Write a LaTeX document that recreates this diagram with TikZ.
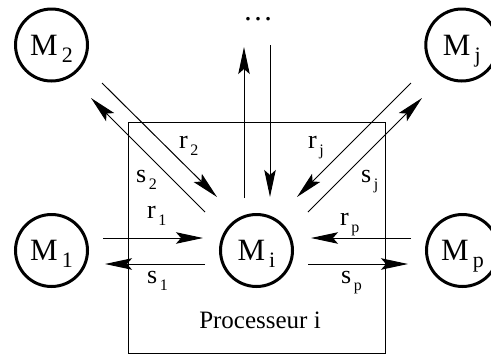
\documentclass[tikz,border=0pt]{standalone}
\usepackage{fontspec}
\setmainfont{Liberation Serif}
\usetikzlibrary{arrows.meta}
\newcommand{\Msub}[2]{#1\hspace{4pt}\raisebox{-7pt}{\fontsize{22}{22}\selectfont #2}}
\newcommand{\Lsub}[2]{#1\hspace{2.5pt}\raisebox{-7pt}{\fontsize{16}{16}\selectfont #2}}
\begin{document}
\begin{tikzpicture}[x=1pt,y=-1pt,
  proc/.style={circle,draw,line width=3pt,minimum size=72pt,inner sep=0pt,text depth=0pt,font=\fontsize{31}{31}\selectfont},
  msg/.style={line width=1pt,-{Stealth[length=27pt,width=11.5pt,inset=5pt]}},
  lab/.style={anchor=base west,inner sep=0pt,font=\fontsize{26}{26}\selectfont}]
\useasboundingbox (0,0) rectangle (491,354);
% processor box
\node (box) [draw,line width=1.2pt,minimum width=257pt,minimum height=231pt,inner sep=0pt,anchor=north west] at (128,122) {};
\node (title) [anchor=base,inner sep=0pt,font=\fontsize{25}{25}\selectfont] at (260,328) {Processeur i};
% processes
\node (M2) [proc] at (51.5,45) {\Msub{M}{2}};
\node (Mj) [proc] at (461.8,45) {\Msub{M}{j}};
\node (M1) [proc] at (51.5,250.5) {\Msub{M}{1}};
\node (Mi) [proc] at (256.5,250.5) {\Msub{M}{i}};
\node (Mp) [proc] at (462.5,250.5) {\Msub{M}{p}};
\node (dots) [anchor=base,inner sep=0pt,text height=4pt,font=\fontsize{30}{30}\selectfont] at (258,20) {…};
% endpoints
\coordinate (r1a) at (103,238); \coordinate (r1b) at (203,238);
\coordinate (s1a) at (205,264); \coordinate (s1b) at (105,264);
\coordinate (rpa) at (411,238); \coordinate (rpb) at (311,238);
\coordinate (spa) at (308,264); \coordinate (spb) at (408,264);
\coordinate (upa) at (244,198); \coordinate (upb) at (244,47);
\coordinate (dna) at (270,45);  \coordinate (dnb) at (270,197);
\coordinate (r2a) at (102,83);  \coordinate (r2b) at (217,197);
\coordinate (s2a) at (205,212); \coordinate (s2b) at (91,98);
\coordinate (rja) at (411,83);  \coordinate (rjb) at (297,197);
\coordinate (sja) at (308,212); \coordinate (sjb) at (422,98);
% messages
\draw[msg] (r1a) -- (r1b);
\draw[msg] (s1a) -- (s1b);
\draw[msg] (rpa) -- (rpb);
\draw[msg] (spa) -- (spb);
\draw[msg] (upa) -- (upb);
\draw[msg] (dna) -- (dnb);
\draw[msg] (r2a) -- (r2b);
\draw[msg] (s2a) -- (s2b);
\draw[msg] (rja) -- (rjb);
\draw[msg] (sja) -- (sjb);
% labels
\node (lr1) [lab] at (147,218) {\Lsub{r}{1}};
\node (ls1) [lab] at (147,283) {\Lsub{s}{1}};
\node (lrp) [lab] at (340,225) {\Lsub{r}{p}};
\node (lsp) [lab] at (341,283) {\Lsub{s}{p}};
\node (lr2) [lab] at (179,148) {\Lsub{r}{2}};
\node (ls2) [lab] at (136,182) {\Lsub{s}{2}};
\node (lrj) [lab] at (308,148) {\Lsub{r}{j}};
\node (lsj) [lab] at (361,182) {\Lsub{s}{j}};
\end{tikzpicture}
\end{document}
